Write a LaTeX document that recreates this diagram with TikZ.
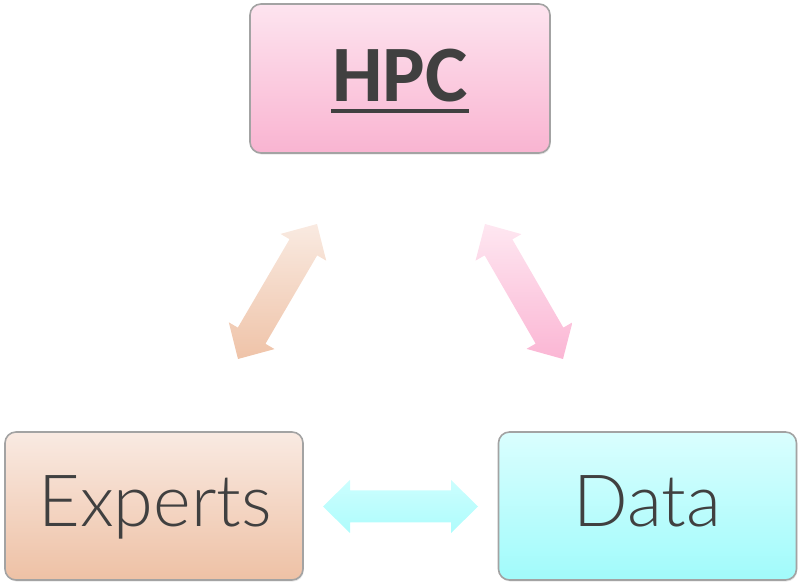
\documentclass[tikz,border=0pt]{standalone}
\usepackage{fontspec}
\setmainfont{Carlito}
\newfontfamily\lightfont{Lato Light}
\usetikzlibrary{calc,shadows}
\definecolor{txt}{HTML}{404040}
\definecolor{hpcT}{HTML}{FDE4EF}
\definecolor{hpcB}{HTML}{F9B4D1}
\definecolor{expT}{HTML}{F9EAE2}
\definecolor{expB}{HTML}{EEC1A5}
\definecolor{datT}{HTML}{DAFEFE}
\definecolor{datB}{HTML}{A1FBFB}
\definecolor{laT}{HTML}{F9EAE1}
\definecolor{laB}{HTML}{EFC3A8}
\definecolor{raT}{HTML}{FEE7F1}
\definecolor{raB}{HTML}{FBB6D4}
\definecolor{haT}{HTML}{CCFEFE}
\definecolor{haB}{HTML}{AEFCFC}
\definecolor{edge}{HTML}{A3A3A3}
\tikzset{
  card/.style={draw=edge, line width=1.6pt, rounded corners=11pt,
    drop shadow={opacity=0.18, shadow xshift=0.8pt, shadow yshift=-1.6pt},
    inner sep=0pt},
  lbl/.style={text=txt, inner sep=0pt, anchor=base},
}
% block double arrow between two named tip coordinates
\newcommand{\blockarrow}[4]{%
  \shade[top color=#3, bottom color=#4]
    (#1) -- ($($(#1)!27pt!(#2)$)!26.5pt!90:(#2)$)
         -- ($($(#1)!27pt!(#2)$)!16pt!90:(#2)$)
         -- ($($(#2)!27pt!(#1)$)!16pt!-90:(#1)$)
         -- ($($(#2)!27pt!(#1)$)!26.5pt!-90:(#1)$)
    -- (#2) -- ($($(#2)!27pt!(#1)$)!26.5pt!90:(#1)$)
         -- ($($(#2)!27pt!(#1)$)!16pt!90:(#1)$)
         -- ($($(#1)!27pt!(#2)$)!16pt!-90:(#2)$)
         -- ($($(#1)!27pt!(#2)$)!26.5pt!-90:(#2)$)
    -- cycle;}
\begin{document}
\begin{tikzpicture}[x=1pt,y=1pt]
\useasboundingbox (0,0) rectangle (798,583);
% boxes
\node[card, minimum width=300pt, minimum height=149pt,
  top color=hpcT, bottom color=hpcB] (hpc) at (400,504.5) {};
\node[card, minimum width=298pt, minimum height=148pt,
  top color=expT, bottom color=expB] (exp) at (154,77) {};
\node[card, minimum width=298pt, minimum height=148pt,
  top color=datT, bottom color=datB] (dat) at (647.5,77) {};
% labels
\node[lbl, font=\fontsize{80}{90}\selectfont\bfseries] (hpct) at (400,481) {HPC};
\draw[txt, line width=3.5pt] ($(hpct.base west)+(-1,-9)$) -- ($(hpct.base east)+(1,-9)$);
\node[lbl, font=\lightfont\fontsize{72}{90}\selectfont] (expt) at (155,56) {Experts};
\node[lbl, font=\lightfont\fontsize{72}{90}\selectfont] (datt) at (647.5,56) {Data};
% arrow tips
\coordinate (la1) at (317,359);
\coordinate (la2) at (238,224);
\coordinate (ra1) at (485,359);
\coordinate (ra2) at (563,224);
\coordinate (ha1) at (323,76.5);
\coordinate (ha2) at (478,76.5);
\blockarrow{la1}{la2}{laT}{laB}
\blockarrow{ra1}{ra2}{raT}{raB}
\blockarrow{ha1}{ha2}{haT}{haB}
\end{tikzpicture}
\end{document}
